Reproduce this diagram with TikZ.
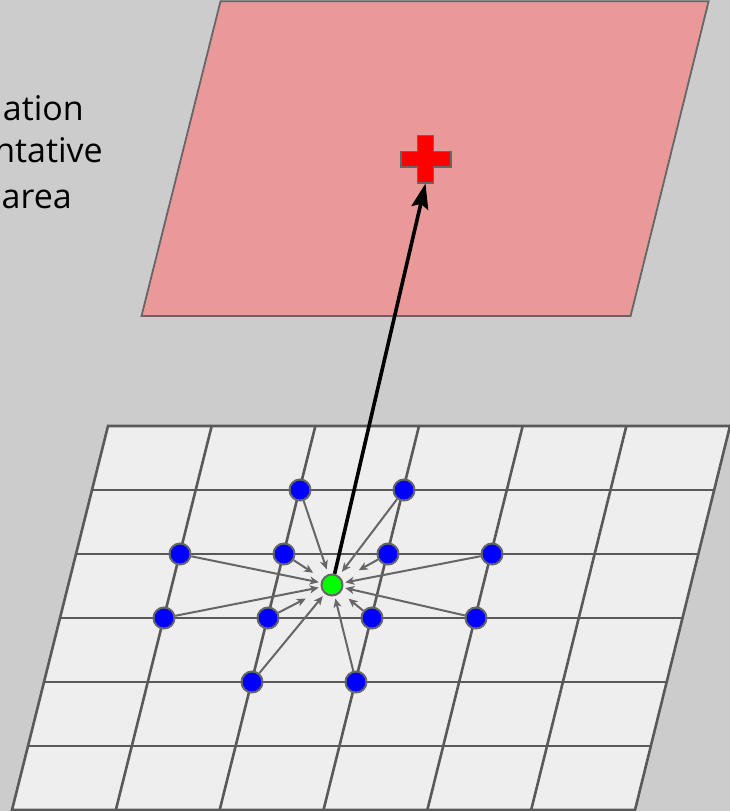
\documentclass[tikz,border=0pt]{standalone}
\usepackage{fontspec}
\setmainfont{Open Sans}
\usetikzlibrary{arrows.meta}
\definecolor{bgc}{HTML}{CCCCCC}
\definecolor{pinkc}{HTML}{EA9999}
\definecolor{gridc}{HTML}{EEEEEE}
\definecolor{linec}{HTML}{595959}
\definecolor{edgec}{HTML}{666666}
\tikzset{
  plane/.style={draw=edgec, line width=1.8pt, line join=miter},
  gridline/.style={draw=linec, line width=2.6pt},
  bluenode/.style={circle, minimum size=21pt, inner sep=0pt, fill=blue, draw=edgec, line width=2pt},
  greennode/.style={circle, minimum size=21pt, inner sep=0pt, fill=green, draw=edgec, line width=2pt},
  conn/.style={draw=edgec, line width=2pt, -{Stealth[length=9pt,width=8pt,inset=2.5pt]}},
  bigarrow/.style={draw=black, line width=3.6pt, -{Stealth[length=25pt,width=17pt,inset=4pt]}},
  lbl/.style={font=\fontsize{34}{40}\selectfont, text=black, inner sep=0pt, anchor=base east}
}
\begin{document}
\begin{tikzpicture}[x=1pt,y=-1pt]
\useasboundingbox (0,0) rectangle (730,811);
\fill[bgc] (0,0) rectangle (730,811);

% labels
\node[lbl] (t1) at (84,120.7) {ation};
\node[lbl] (t2) at (103,162.5) {ntative};
\node[lbl] (t3) at (72,208) {area};

% pink plane
\draw[plane, fill=pinkc] (220.5,1.3) -- (708.6,1.3) -- (630.6,316) -- (141.5,316) -- cycle;

% red cross
\draw[fill=red, draw=edgec, line width=1.8pt]
  (417.5,135.5) -- (433.5,135.5) -- (433.5,151.5) -- (450.7,151.5) -- (450.7,166.7)
  -- (433.5,166.7) -- (433.5,182.7) -- (417.5,182.7) -- (417.5,166.7) -- (400.7,166.7)
  -- (400.7,151.5) -- (417.5,151.5) -- cycle;
\coordinate (crossbot) at (425.5,183.5);

% grid plane
\fill[gridc] (108,426) -- (730,426) -- (635,810) -- (12,810) -- cycle;
\foreach \i in {1,...,5} {
  \draw[gridline] ({108-16*\i},{426+64*\i}) -- ({730-15.833*\i},{426+64*\i});
}
\foreach \j in {1,...,5} {
  \draw[gridline] ({108+103.67*\j},426) -- ({12+103.83*\j},810);
}
\draw[gridline, line join=miter] (108,426) -- (730,426) -- (635,810) -- (12,810) -- cycle;

% nodes
\node[bluenode] (a) at (300,490) {};
\node[bluenode] (b) at (404,490) {};
\node[bluenode] (c) at (180,554) {};
\node[bluenode] (d) at (284,554) {};
\node[bluenode] (e) at (388,554) {};
\node[bluenode] (f) at (492,554) {};
\node[bluenode] (g) at (164,618) {};
\node[bluenode] (h) at (268,618) {};
\node[bluenode] (i) at (372,618) {};
\node[bluenode] (j) at (476,618) {};
\node[bluenode] (k) at (252,682) {};
\node[bluenode] (l) at (356,682) {};
\node[greennode] (m) at (332,585) {};

% connectors
\draw[conn, shorten >=5pt] (a) -- (m);
\draw[conn, shorten >=5pt] (b) -- (m);
\draw[conn, shorten >=2pt] (c) -- (m);
\draw[conn, shorten >=11pt] (d) -- (m);
\draw[conn, shorten >=19pt] (e) -- (m);
\draw[conn, shorten >=2pt] (f) -- (m);
\draw[conn, shorten >=2pt] (g) -- (m);
\draw[conn, shorten >=18pt] (h) -- (m);
\draw[conn, shorten >=10pt] (i) -- (m);
\draw[conn, shorten >=2pt] (j) -- (m);
\draw[conn, shorten >=3pt] (k) -- (m);
\draw[conn, shorten >=2.5pt] (l) -- (m);

% main arrow
\draw[bigarrow] (m) -- (crossbot);
\end{tikzpicture}
\end{document}
